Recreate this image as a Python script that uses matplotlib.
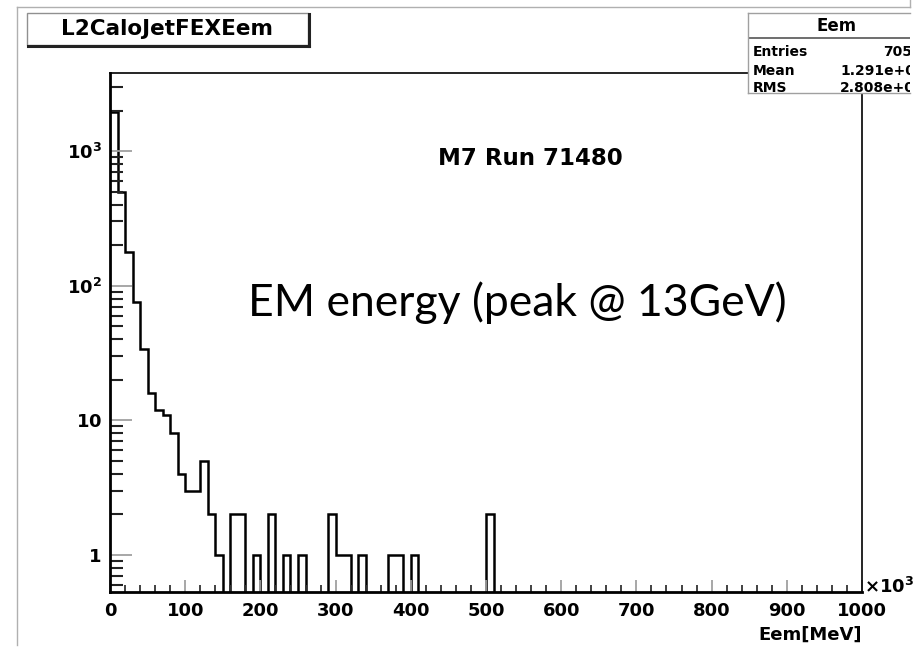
import numpy as np
import matplotlib
matplotlib.use('Agg')
import matplotlib.pyplot as plt
from matplotlib.ticker import LogLocator, MultipleLocator, NullFormatter
from matplotlib.patches import Rectangle
from matplotlib.lines import Line2D

W, H = 924, 657

# Eem spectrum, 10 GeV bins, x in units of 10^3 MeV
bin_edges = np.arange(0, 1010, 10)
counts_filled = [1950, 498, 178, 76, 34, 16, 12, 11, 8, 4,
                 3, 3, 5, 2, 1, 0, 2, 2, 0, 1,
                 0, 2, 0, 1, 0, 1, 0, 0, 0, 2,
                 1, 1, 0, 1, 0, 0, 0, 1, 1, 0,
                 1, 0, 0, 0, 0, 0, 0, 0, 0, 0,
                 2]
counts = np.array(counts_filled + [0] * (len(bin_edges) - 1 - len(counts_filled)), dtype=float)

ytick_vals = [1, 10, 100, 1000]
ytick_labels = [r'$\mathbf{1}$', r'$\mathbf{10}$', r'$\mathbf{10^{2}}$', r'$\mathbf{10^{3}}$']
xtick_vals = list(range(0, 1001, 100))

stat_names = ['Entries', 'Mean', 'RMS']
stat_values = ['7059', '1.291e+04', '2.808e+04']

plt.rcParams['font.family'] = ['DejaVu Sans']
plt.rcParams['font.weight'] = 'bold'
plt.rcParams['mathtext.fontset'] = 'dejavusans'


def fx(px):
    return px / W


def fy(py):
    return 1 - py / H


fig = plt.figure(figsize=(W / 100, H / 100), dpi=100)

# outer pad frame
fig.add_artist(Line2D([fx(17), fx(910)], [fy(7), fy(7)], color='#b0b0b0', lw=1))
fig.add_artist(Line2D([fx(17), fx(17)], [fy(7), fy(645)], color='#b0b0b0', lw=1))
fig.add_artist(Line2D([fx(910), fx(910)], [fy(0), fy(7)], color='#b0b0b0', lw=1))

ax = fig.add_axes([fx(110), fy(592), (862 - 110) / W, (592 - 73) / H])
ax.stairs(np.where(counts > 0, counts, 1e-3), bin_edges, color='black', lw=1.8, baseline=None)
ax.set_yscale('log')
ax.set_xlim(0, 1000)
ax.set_ylim(0.53, 3800)

ax.set_yticks(ytick_vals, labels=ytick_labels)
ax.yaxis.set_minor_locator(LogLocator(base=10, subs=np.arange(2, 10)))
ax.yaxis.set_minor_formatter(NullFormatter())
ax.set_xticks(xtick_vals)
ax.xaxis.set_minor_locator(MultipleLocator(20))

ax.tick_params(axis='y', which='major', direction='in', length=16, width=1.3,
               color='#a0a0a0', labelsize=13, pad=6)
ax.tick_params(axis='y', which='minor', direction='in', length=9, width=1.5, color='#222222')
ax.tick_params(axis='x', which='major', direction='in', length=9, width=1.3,
               color='#a0a0a0', labelsize=13, pad=7)
ax.tick_params(axis='x', which='minor', direction='in', length=5, width=1.3, color='#333333')
for lab in ax.get_xticklabels():
    lab.set_fontweight('bold')

for side in ['left', 'bottom']:
    ax.spines[side].set_linewidth(2)
for side in ['top', 'right']:
    ax.spines[side].set_linewidth(1.2)

ax.text(1.003, 0.01, r'$\mathbf{\times 10^{3}}$', transform=ax.transAxes,
        ha='left', va='center', fontsize=13, clip_on=False)
ax.text(1.0, -0.083, 'Eem[MeV]', transform=ax.transAxes, ha='right', va='center',
        fontsize=13, fontweight='bold')
ax.text(0.559, 0.836, 'M7 Run 71480', transform=ax.transAxes, ha='center', va='center',
        fontsize=16.5, fontweight='bold')

# histogram title box with shadow
fig.add_artist(Rectangle((fx(27), fy(45)), (308 - 27) / W, (45 - 13) / H,
                         transform=fig.transFigure, facecolor='white',
                         edgecolor='#909090', lw=1))
fig.add_artist(Line2D([fx(309), fx(309)], [fy(14), fy(46)], color='#222222', lw=2.2))
fig.add_artist(Line2D([fx(28), fx(309)], [fy(46), fy(46)], color='#222222', lw=2.2))
fig.text(fx(167), fy(29), 'L2CaloJetFEXEem', ha='center', va='center',
         fontsize=15.5, fontweight='bold')

# statistics box, cut at the pad edge
sax = fig.add_axes([fx(748), fy(93), (910 - 748) / W, (93 - 12.7) / H])
sax.set_xlim(748, 910)
sax.set_ylim(93, 12.7)
sax.set_xticks([])
sax.set_yticks([])
sax.set_facecolor('white')
for side in ['left', 'top', 'bottom']:
    sax.spines[side].set_color('#a0a0a0')
    sax.spines[side].set_linewidth(1)
sax.spines['right'].set_visible(False)
sax.plot([748, 910], [38, 38], color='#555555', lw=1.2)
sax.text(837, 26, 'Eem', ha='center', va='center', fontsize=12, fontweight='bold')
row_y = [52, 71, 88]
value_x = [883, 840, 840]
for name, val, yy, vx in zip(stat_names, stat_values, row_y, value_x):
    sax.text(753, yy, name, ha='left', va='center', fontsize=10, fontweight='bold', clip_on=True)
    sax.text(vx, yy, val, ha='left', va='center', fontsize=10, fontweight='bold', clip_on=True)

fig.text(fx(517.5), fy(303), 'EM energy (peak @ 13GeV)', ha='center', va='center',
         fontsize=32, fontweight='normal', family=['Lato', 'DejaVu Sans'])

fig.savefig('out.png', dpi=100)
